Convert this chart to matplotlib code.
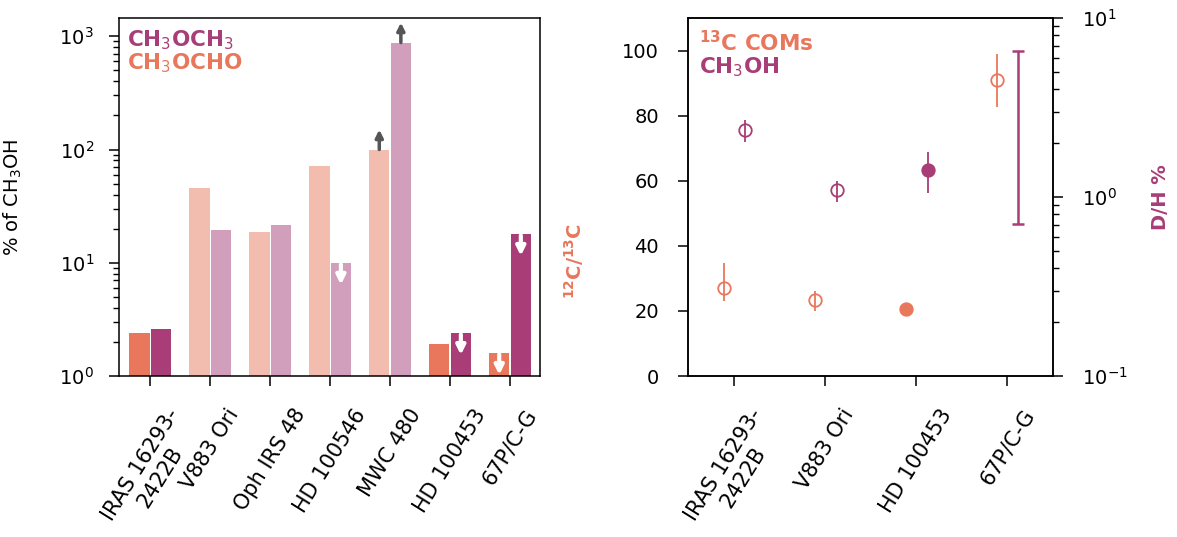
import matplotlib.pyplot as plt
import numpy as np

plt.rcParams['font.family'] = ['DejaVu Sans']
plt.rcParams['font.size'] = 14
plt.rcParams['axes.linewidth'] = 1.1
for a in ['xtick', 'ytick']:
    plt.rcParams[a + '.major.size'] = 7
    plt.rcParams[a + '.minor.size'] = 4
    plt.rcParams[a + '.major.width'] = 1.1
    plt.rcParams[a + '.minor.width'] = 1.0
    plt.rcParams[a + '.major.pad'] = 11
plt.rcParams['xtick.major.pad'] = 14

c_or = '#E8775C'
c_pu = '#A83D77'
c_or_l = '#F2BDAE'
c_pu_l = '#D19EBC'

# left panel: abundances relative to CH3OH (%)
sources = ['IRAS 16293-\n2422B', 'V883 Ori', 'Oph IRS 48', 'HD 100546',
           'MWC 480', 'HD 100453', '67P/C-G']
mf = [2.4, 46, 18.8, 71, 100, 1.9, 1.6]        # CH3OCHO
dme = [2.6, 19.5, 21.5, 10, 880, 2.4, 18]      # CH3OCH3
mf_lim = ['', '', '', '', 'lower', '', 'upper']
dme_lim = ['', '', '', 'upper', 'lower', 'upper', 'upper']
light = [False, True, True, True, True, False, False]

# right panel
src2 = ['IRAS 16293-\n2422B', 'V883 Ori', 'HD 100453', '67P/C-G']
c13 = [27, 23.4, 20.6, 90.8]
c13_lo = [23, 20, 19.5, 82.8]
c13_hi = [34.8, 26, 22, 98.8]
c13_filled = [False, False, True, False]
dh = [2.37, 1.09, 1.42, None]
dh_lo = [2.03, 0.94, 1.05, 0.71]
dh_hi = [2.69, 1.23, 1.78, 6.5]
dh_filled = [False, False, True, False]

fig = plt.figure(figsize=(11.77, 5.37), dpi=100)
ax = fig.add_axes([0.1011, 0.2998, 0.3577, 0.6667])
x = np.arange(len(sources))
w = 0.34
off = 0.18
for i in x:
    co = c_or_l if light[i] else c_or
    cp = c_pu_l if light[i] else c_pu
    ax.bar(i - off, mf[i], w, color=co)
    ax.bar(i + off, dme[i], w, color=cp)
    for xx, v, lim in [(i - off, mf[i], mf_lim[i]), (i + off, dme[i], dme_lim[i])]:
        if lim == 'upper':
            ax.annotate('', xy=(xx, v * 0.64), xytext=(xx, v * 0.97),
                        arrowprops=dict(arrowstyle='-|>', color='white', lw=3,
                                        mutation_scale=13, shrinkA=0, shrinkB=0))
        elif lim == 'lower':
            ax.annotate('', xy=(xx, v * 1.5), xytext=(xx, v),
                        arrowprops=dict(arrowstyle='-|>', color='#555555', lw=2.5,
                                        mutation_scale=11, shrinkA=0, shrinkB=0))
ax.set_yscale('log')
ax.set_ylim(1, 1450)
ax.set_xlim(-0.52, 6.5)
ax.set_xticks(x)
ax.set_xticklabels(sources, rotation=58, ha='center', fontsize=15)
ax.set_ylabel('% of CH$_3$OH')
ax.yaxis.set_label_coords(-0.226, 0.5)
ax.text(0.019, 0.938, 'CH$_3$OCH$_3$', color=c_pu, fontweight='bold', fontsize=15.5,
        transform=ax.transAxes, va='center')
ax.text(0.019, 0.874, 'CH$_3$OCHO', color=c_or, fontweight='bold', fontsize=15.5,
        transform=ax.transAxes, va='center')

# right panel
ax2 = fig.add_axes([0.5845, 0.2998, 0.3101, 0.6667])
ax3 = ax2.twinx()
x2 = np.arange(len(src2))
for i in x2:
    err = [[c13[i] - c13_lo[i]], [c13_hi[i] - c13[i]]]
    ax2.errorbar(i - 0.11, c13[i], yerr=err, fmt='o', ms=9, color=c_or,
                 mfc=c_or if c13_filled[i] else 'none', mew=1.3, elinewidth=1.3)
    if dh[i] is not None:
        err = [[dh[i] - dh_lo[i]], [dh_hi[i] - dh[i]]]
        ax3.errorbar(i + 0.13, dh[i], yerr=err, fmt='o', ms=9, color=c_pu,
                     mfc=c_pu if dh_filled[i] else 'none', mew=1.3, elinewidth=1.3)
    else:
        mid = np.sqrt(dh_lo[i] * dh_hi[i])
        ax3.errorbar(i + 0.12, mid, yerr=[[mid - dh_lo[i]], [dh_hi[i] - mid]],
                     fmt='none', color=c_pu, elinewidth=1.8, capsize=4, capthick=1.8)
ax2.set_xlim(-0.5, 3.5)
ax2.set_ylim(0, 110)
ax2.set_xticks(x2)
ax2.set_xticklabels(src2, rotation=58, ha='center', fontsize=15)
ax2.tick_params(axis='y', pad=14)
ax2.set_ylabel('$\\mathbf{^{12}C/^{13}C}$', color=c_or, fontweight='bold')
ax2.yaxis.set_label_coords(-0.279, 0.32)
ax3.set_yscale('log')
ax3.set_ylim(0.1, 10)
ax3.tick_params(axis='y', which='major', pad=14)
ax3.set_ylabel('D/H %', color=c_pu, fontweight='bold')
ax3.yaxis.set_label_coords(1.27, 0.5)
ax2.text(0.03, 0.93, '$\\mathbf{^{13}C}$ COMs', color=c_or, fontweight='bold', fontsize=15.5,
         transform=ax2.transAxes, va='center')
ax2.text(0.03, 0.863, 'CH$_3$OH', color=c_pu, fontweight='bold', fontsize=15.5,
         transform=ax2.transAxes, va='center')

fig.savefig('out.png', dpi=100)
